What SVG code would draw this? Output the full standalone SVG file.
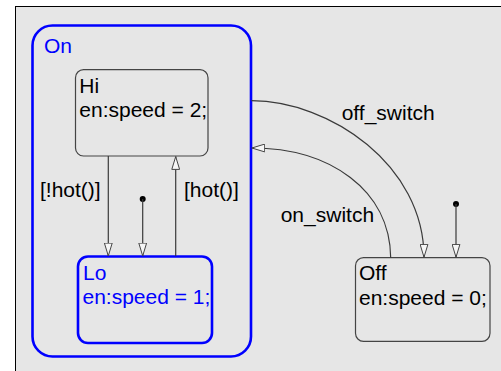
<svg xmlns="http://www.w3.org/2000/svg" width="501" height="371" viewBox="0 0 501 371">
<style>
.lbl{font-family:"Liberation Sans",Arial,sans-serif;font-size:21px;fill:#000}
.blue{fill:#0000ff}
.tr{fill:none;stroke:#3a3a3a;stroke-width:1.2}
.st{fill:none;stroke:#444;stroke-width:1.2}
.dot{fill:#000}
</style>
<defs>
<marker id="ah" markerUnits="userSpaceOnUse" viewBox="0 0 14 9" refX="13.5" refY="4.5" markerWidth="14" markerHeight="9" orient="auto">
<path d="M0.6,0.6 L13.4,4.5 L0.6,8.4 Z" fill="#f6f6f6" stroke="#444" stroke-width="1"/>
</marker>
</defs>
<rect x="0" y="0" width="501" height="371" fill="#ffffff"/>
<rect x="15.5" y="6.5" width="490" height="370" fill="#e6e6e6" stroke="#000" stroke-width="1"/>
<g id="On">
<rect x="32.5" y="25.5" width="218.5" height="331" rx="20" ry="20" fill="none" stroke="#0000ff" stroke-width="2.6"/>
<text class="lbl blue" x="44" y="52.5">On</text>
</g>
<g id="Hi">
<rect x="75.5" y="69.7" width="132.5" height="86.3" rx="8" ry="8" fill="none" class="st"/>
<text class="lbl" x="79.3" y="92.7">Hi</text>
<text class="lbl" x="79.3" y="116.7">en:speed = 2;</text>
</g>
<g id="Lo">
<rect x="78" y="256.5" width="134" height="86.5" rx="10" ry="10" fill="none" stroke="#0000ff" stroke-width="2.6"/>
<text class="lbl blue" x="83" y="279.5">Lo</text>
<text class="lbl blue" x="82.5" y="304">en:speed = 1;</text>
</g>
<g id="Off">
<rect x="355.5" y="257.7" width="134.5" height="83.6" rx="8" ry="8" fill="none" class="st"/>
<text class="lbl" x="359" y="280">Off</text>
<text class="lbl" x="359" y="305">en:speed = 0;</text>
</g>
<g id="connectors">
<path class="tr" d="M108.3,156 L108.3,256" marker-end="url(#ah)"/>
<text class="lbl" x="40" y="196.7">[!hot()]</text>
<circle class="dot" cx="142.7" cy="199" r="3"/>
<path class="tr" d="M142.7,199 L142.7,256" marker-end="url(#ah)"/>
<path class="tr" d="M175.7,256 L175.7,156.5" marker-end="url(#ah)"/>
<text class="lbl" x="184" y="196.7">[hot()]</text>
<path class="tr" d="M251.5,100.7 C330,101 424,165 424,257.3" marker-end="url(#ah)"/>
<text class="lbl" x="341.7" y="120">off_switch</text>
<path class="tr" d="M390.7,257.7 C390,190 330,148 251.8,148" marker-end="url(#ah)"/>
<text class="lbl" x="280.7" y="221.7">on_switch</text>
<circle class="dot" cx="456" cy="204" r="3"/>
<path class="tr" d="M456,204 L456,257.3" marker-end="url(#ah)"/>
</g>
</svg>
